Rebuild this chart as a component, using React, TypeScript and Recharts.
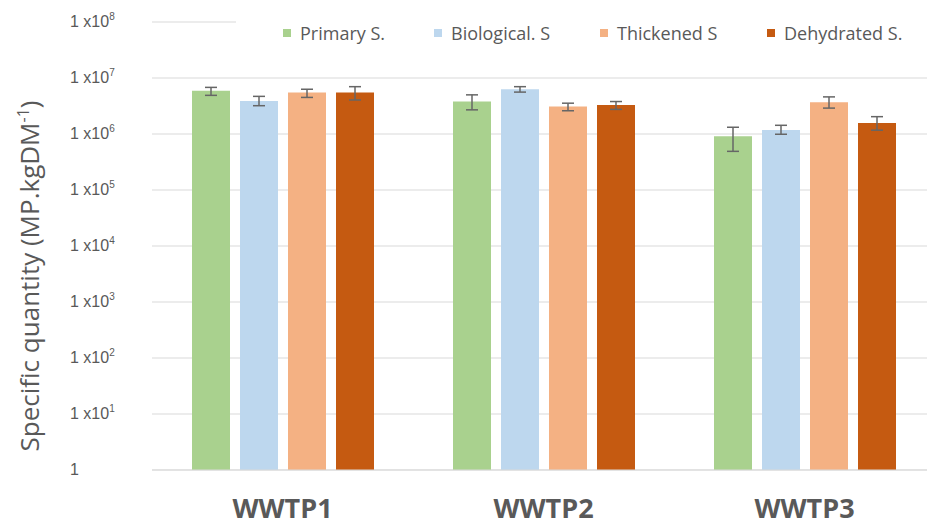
import React from 'react';
import { BarChart, Bar, XAxis, YAxis, CartesianGrid, ErrorBar } from 'recharts';

// categories and series
const plants = ['WWTP1', 'WWTP2', 'WWTP3'];
const seriesNames = ['Primary S.', 'Biological. S', 'Thickened S', 'Dehydrated S.'];
const seriesColors = ['#a9d18e', '#bdd7ee', '#f4b183', '#c55a11'];

// values (MP per kg DM), with error bar bounds
const primary = [5.9e6, 3.8e6, 9.1e5];
const primaryLow = [4.9e6, 2.7e6, 4.9e5];
const primaryHigh = [6.8e6, 5.0e6, 1.32e6];

const biological = [3.9e6, 6.3e6, 1.18e6];
const biologicalLow = [3.2e6, 5.6e6, 9.9e5];
const biologicalHigh = [4.7e6, 7.0e6, 1.43e6];

const thickened = [5.5e6, 3.1e6, 3.7e6];
const thickenedLow = [4.5e6, 2.6e6, 2.9e6];
const thickenedHigh = [6.3e6, 3.55e6, 4.6e6];

const dehydrated = [5.5e6, 3.3e6, 1.58e6];
const dehydratedLow = [4.05e6, 2.75e6, 1.17e6];
const dehydratedHigh = [7.0e6, 3.8e6, 2.04e6];

const yTicks = [1, 1e1, 1e2, 1e3, 1e4, 1e5, 1e6, 1e7, 1e8];

const values = [primary, biological, thickened, dehydrated];
const lows = [primaryLow, biologicalLow, thickenedLow, dehydratedLow];
const highs = [primaryHigh, biologicalHigh, thickenedHigh, dehydratedHigh];

const data = plants.map((plant, i) => {
  const row: any = { plant };
  values.forEach((arr, s) => {
    row['s' + s] = arr[i];
    row['e' + s] = [arr[i] - lows[s][i], highs[s][i] - arr[i]];
  });
  return row;
});

const FONT = '"Open Sans", Lato, sans-serif';
const TICK_FONT = '"Liberation Sans", Arial, sans-serif';
const GREY = '#595959';

const YTick = ({ y, payload }: any) => {
  const exp = Math.round(Math.log10(payload.value));
  return (
    <text x={70} y={y} dy={5} fill={GREY} fontSize={16} fontFamily={TICK_FONT}>
      {exp === 0 ? '1' : '1 x10'}
      {exp !== 0 && (
        <tspan dy={-7} fontSize={10}>
          {exp}
        </tspan>
      )}
    </text>
  );
};

const XTick = ({ x, y, payload }: any) => (
  <text x={x} y={y} dy={40} textAnchor="middle" fill={GREY} fontSize={27} fontWeight={700} fontFamily={FONT}>
    {payload.value}
  </text>
);

const YLabel = () => (
  <text transform="translate(39, 276) rotate(-90)" textAnchor="middle" fill={GREY} fontSize={26} fontFamily={FONT}>
    Specific quantity (MP.kgDM
    <tspan dy={-10} fontSize={16}>-1</tspan>
    <tspan dy={10}>)</tspan>
  </text>
);

const legendWidths = [151, 166, 167, 150];

export default function App() {
  return (
    <div style={{ position: 'absolute', left: 0, top: 0, width: 927, height: 526, overflow: 'hidden', background: '#fff' }}>
      <BarChart width={935} height={526} data={data} margin={{ top: 22, right: 0, bottom: 0, left: 0 }} barSize={38} barGap={10}>
        <CartesianGrid vertical={false} stroke="#d9d9d9" />
        <XAxis dataKey="plant" height={56} axisLine={{ stroke: '#d9d9d9' }} tickLine={false} tick={<XTick />} />
        <YAxis
          scale="log"
          domain={[1, 1e8]}
          ticks={yTicks}
          width={152}
          axisLine={false}
          tickLine={false}
          tick={<YTick />}
          label={{ content: <YLabel /> }}
        />
        {seriesNames.map((name, s) => (
          <Bar key={name} dataKey={'s' + s} name={name} fill={seriesColors[s]} isAnimationActive={false}>
            <ErrorBar dataKey={'e' + s} width={6} strokeWidth={1.5} stroke="#666" />
          </Bar>
        ))}
      </BarChart>
      <div
        style={{
          position: 'absolute',
          left: 236,
          top: 13,
          width: 691,
          height: 40,
          background: '#fff',
          display: 'flex',
          alignItems: 'center',
          paddingLeft: 47,
          boxSizing: 'border-box',
          fontFamily: FONT,
          fontSize: 18,
          color: GREY,
        }}
      >
        {seriesNames.map((name, s) => (
          <div key={name} style={{ width: legendWidths[s], flex: 'none', display: 'flex', alignItems: 'center' }}>
            <span style={{ width: 8, height: 8, background: seriesColors[s], marginRight: 9, display: 'inline-block' }} />
            <span>{name}</span>
          </div>
        ))}
      </div>
    </div>
  );
}
